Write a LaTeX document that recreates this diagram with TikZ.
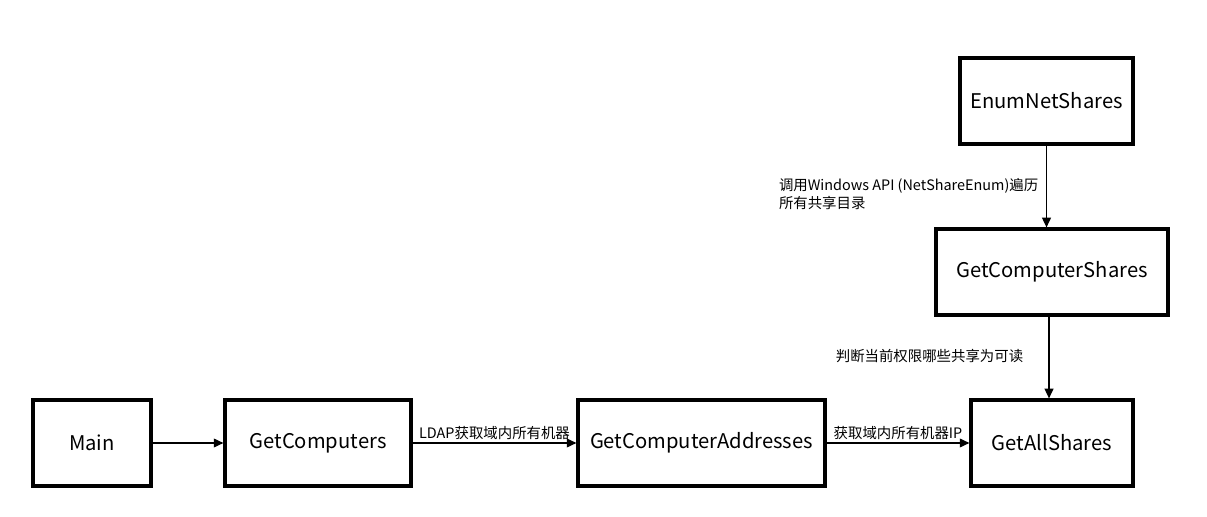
\documentclass[tikz,border=0pt]{standalone}
\usepackage{fontspec}
\setmainfont{Noto Sans CJK SC}
\usepackage{xcolor}
\usepackage{tikz}
\usetikzlibrary{arrows.meta, positioning, calc}
\definecolor{mydark}{RGB}{0,0,0}
\tikzset{
  func/.style={rectangle, draw=mydark, fill=white, minimum height=1.72cm,
    font=\fontsize{11.5}{14}\selectfont, line width=1.8pt, inner sep=2pt},
  arrow/.style={-{Triangle[length=5.5pt, width=5pt]}, line width=0.8pt, color=mydark},
  note/.style={font=\fontsize{8.2}{10.4}\selectfont, align=left, inner sep=1.5pt}
}
\begin{document}
\begin{tikzpicture}
  \useasboundingbox (0,0) rectangle (24.14,10.34);
  % Blocks
  \node[func, minimum width=2.36cm] (main) at (1.84, 1.48) {Main};
  \node[func, minimum width=3.72cm] (getcomputers) at (6.36, 1.48) {GetComputers};
  \node[func, minimum width=4.94cm] (getaddresses) at (14.03, 1.48) {GetComputerAddresses};
  \node[func, minimum width=3.24cm] (getallshares) at (21.04, 1.48) {GetAllShares};
  \node[func, minimum width=4.64cm] (getcompshares) at (21.04, 4.90) {GetComputerShares};
  \node[func, minimum width=3.46cm] (enumshares) at (20.93, 8.32) {EnumNetShares};

  % Paths
  \draw[arrow] (main) -- (getcomputers);
  \draw[arrow] (getcomputers) -- (getaddresses)
    node[note, above, midway] {LDAP获取域内所有机器};
  \draw[arrow] (getaddresses) -- (getallshares)
    node[note, above, midway] {获取域内所有机器IP};
  \draw[arrow] (enumshares) -- (enumshares |- getcompshares.north)
    node[note, left, pos=0.59, xshift=-0.1cm] {调用Windows API (NetShareEnum)遍历\\所有共享目录};
  \draw[arrow] ($(getcompshares.south)+(-0.06,0)$) -- ($(getallshares.north)+(-0.06,0)$)
    node[note, left, pos=0.48, xshift=-0.45cm] {判断当前权限哪些共享为可读};
\end{tikzpicture}
\end{document}
